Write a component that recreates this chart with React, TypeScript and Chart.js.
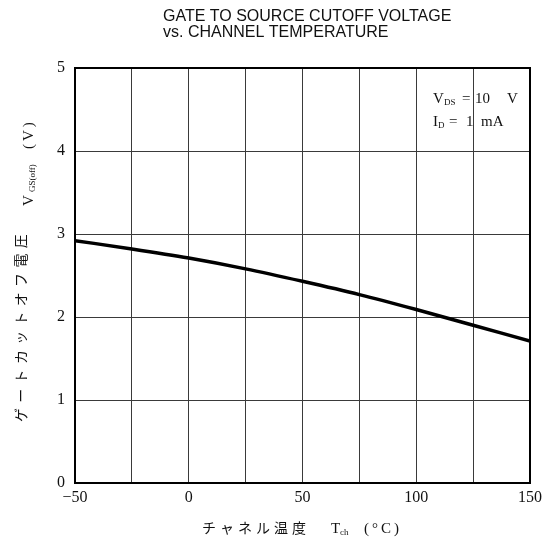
import React, { useEffect, useRef } from 'react';
import { Chart, registerables } from 'chart.js';

Chart.register(...registerables);

// ---- data ----
const temperatures = [-50, -25, 0, 25, 50, 75, 100, 125, 150];
const cutoffVoltage = [2.92, 2.82, 2.71, 2.58, 2.43, 2.27, 2.09, 1.9, 1.71];
const xTickValues = [-50, 0, 50, 100, 150];
const xTickLabels = ['−50', '0', '50', '100', '150'];
const yTickValues = [0, 1, 2, 3, 4, 5];
const yTickLabels = ['0', '1', '2', '3', '4', '5'];
const titleLines = ['GATE TO SOURCE CUTOFF VOLTAGE', 'vs. CHANNEL TEMPERATURE'];
const yTitleJa = 'ゲートカットオフ電圧';
const xTitleJa = 'チャネル温度';

const SERIF = '"Liberation Serif", "DejaVu Serif", serif';
const SANS = '"Liberation Sans", Arial, sans-serif';
const CJK = '"Noto Sans CJK JP", sans-serif';
const INK = '#111';

function drawSpaced(ctx: CanvasRenderingContext2D, text: string, x: number, y: number, spacing: number) {
  let cx = x;
  for (const ch of text) {
    ctx.fillText(ch, cx, y);
    cx += ctx.measureText(ch).width + spacing;
  }
  return cx;
}

const decorPlugin = {
  id: 'decor',
  afterDraw(chart: any) {
    const ctx: CanvasRenderingContext2D = chart.ctx;
    const { left, top, right, bottom } = chart.chartArea;
    ctx.save();
    // frame
    ctx.strokeStyle = '#000';
    ctx.lineWidth = 2;
    ctx.strokeRect(left, top, right - left, bottom - top);

    ctx.fillStyle = INK;
    // title
    ctx.font = `16px ${SANS}`;
    ctx.textAlign = 'left';
    ctx.textBaseline = 'middle';
    ctx.fillText(titleLines[0], 163, 17);
    ctx.fillText(titleLines[1], 163, 33);

    // annotation
    ctx.textBaseline = 'alphabetic';
    ctx.font = `15px ${SERIF}`;
    ctx.fillText('V', 433, 103);
    ctx.font = `9px ${SERIF}`;
    ctx.fillText('DS', 444, 105);
    ctx.font = `15px ${SERIF}`;
    ctx.fillText('=', 462, 103);
    ctx.fillText('10', 475, 103);
    ctx.fillText('V', 507, 103);
    ctx.fillText('I', 433, 126);
    ctx.font = `9px ${SERIF}`;
    ctx.fillText('D', 438, 128);
    ctx.font = `15px ${SERIF}`;
    ctx.fillText('=', 449, 126);
    ctx.fillText('1', 466, 126);
    ctx.fillText('mA', 481, 126);

    // x-axis title
    ctx.font = `14px ${CJK}`;
    ctx.textAlign = 'center';
    ctx.textBaseline = 'middle';
    Array.from(xTitleJa).forEach((ch, i) => ctx.fillText(ch, 209 + 18 * i, 528));
    ctx.textAlign = 'left';
    ctx.textBaseline = 'alphabetic';
    ctx.font = `15px ${SERIF}`;
    ctx.fillText('T', 331, 533);
    ctx.font = `9px ${SERIF}`;
    ctx.fillText('ch', 340, 535);
    ctx.font = `15px ${SERIF}`;
    drawSpaced(ctx, '(°C)', 364, 533, 3);

    // y-axis title (rotated)
    ctx.save();
    ctx.rotate(-Math.PI / 2);
    ctx.font = `14px ${CJK}`;
    ctx.textAlign = 'center';
    ctx.textBaseline = 'middle';
    Array.from(yTitleJa).forEach((ch, i) => ctx.fillText(ch, -(415 - 19.3 * i), 21));
    ctx.textAlign = 'left';
    ctx.textBaseline = 'alphabetic';
    ctx.font = `15px ${SERIF}`;
    ctx.fillText('V', -206, 33);
    ctx.font = `9px ${SERIF}`;
    ctx.fillText('GS(off)', -192, 35);
    ctx.font = `15px ${SERIF}`;
    drawSpaced(ctx, '(V)', -149, 33, 3);
    ctx.restore();

    ctx.restore();
  },
};

export default function App() {
  const canvasRef = useRef<HTMLCanvasElement | null>(null);

  useEffect(() => {
    const canvas = canvasRef.current;
    if (!canvas) return;
    const chart = new Chart(canvas, {
      type: 'line',
      data: {
        datasets: [
          {
            data: temperatures.map((t, i) => ({ x: t, y: cutoffVoltage[i] })),
            borderColor: '#000',
            borderWidth: 3.5,
            pointRadius: 0,
            fill: false,
            cubicInterpolationMode: 'monotone',
          },
        ],
      },
      options: {
        responsive: false,
        animation: false,
        devicePixelRatio: 1,
        layout: { padding: { left: 0, top: 68, right: 19, bottom: 0 } },
        plugins: {
          legend: { display: false },
          title: { display: false },
          tooltip: { enabled: false },
        },
        scales: {
          x: {
            type: 'linear',
            min: -50,
            max: 150,
            grid: { color: '#3a3a3a', lineWidth: 1, drawTicks: false },
            border: { display: false },
            ticks: {
              stepSize: 25,
              padding: 5,
              autoSkip: false,
              maxRotation: 0,
              color: INK,
              font: { family: SERIF, size: 16 },
              callback: (v: any) => {
                const i = xTickValues.indexOf(Number(v));
                return i >= 0 ? xTickLabels[i] : '';
              },
            },
            afterFit: (s: any) => {
              s.height = 61;
            },
          },
          y: {
            type: 'linear',
            min: 0,
            max: 5,
            grid: { color: '#3a3a3a', lineWidth: 1, drawTicks: false },
            border: { display: false },
            ticks: {
              stepSize: 1,
              padding: 10,
              color: INK,
              font: { family: SERIF, size: 16 },
              callback: (v: any) => {
                const i = yTickValues.indexOf(Number(v));
                return i >= 0 ? yTickLabels[i] : '';
              },
            },
            afterFit: (s: any) => {
              s.width = 75;
            },
          },
        },
      } as any,
      plugins: [decorPlugin],
    });
    return () => chart.destroy();
  }, []);

  return (
    <div style={{ position: 'absolute', left: 0, top: 0, width: 549, height: 544, background: '#fff' }}>
      <canvas ref={canvasRef} width={549} height={544} style={{ display: 'block' }} />
    </div>
  );
}
